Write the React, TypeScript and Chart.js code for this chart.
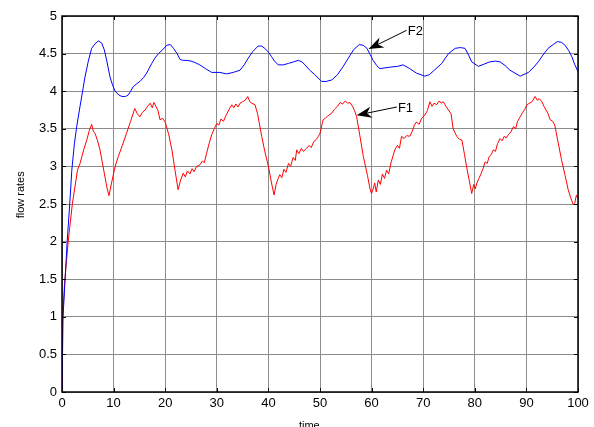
import React, { useEffect, useRef } from 'react';
import { Chart, registerables } from 'chart.js';

Chart.register(...registerables);

// F1 (red) series
const f1Time = [
  0, 0.1, 0.5, 1.2, 2.0, 3.0, 3.5, 4.2, 4.8, 5.3, 5.75, 6.1, 6.4, 6.9, 7.36, 7.9, 8.33, 8.7, 9.1, 9.6,
  10.3, 10.9, 11.7, 12.5, 13.3, 14.1, 14.6, 15.1, 15.6, 16.1, 16.6, 17.1, 17.5, 17.8, 18.2, 18.6, 19.0, 19.5, 20.0, 20.7,
  21.3, 21.9, 22.5, 23.0, 23.5, 23.9, 24.3, 24.8, 25.2, 25.6, 26.1, 26.7, 27.2, 27.6, 28.0, 28.5, 29.0, 29.5, 30.0, 30.4,
  30.8, 31.3, 31.8, 32.4, 32.9, 33.3, 33.7, 34.1, 34.5, 35.0, 35.5, 36.0, 36.4, 36.8, 37.4, 37.9, 38.3, 38.7, 39.3, 40.0,
  40.6, 41.1, 41.5, 41.9, 42.2, 42.6, 43.0, 43.4, 43.9, 44.3, 44.8, 45.2, 45.5, 45.9, 46.4, 46.8, 47.4, 47.9, 48.3, 48.8,
  49.3, 49.7, 50.0, 50.6, 51.0, 51.5, 52.3, 52.8, 53.4, 53.9, 54.4, 54.9, 55.4, 55.8, 56.3, 56.7, 57.1, 57.7, 58.4, 59.2,
  59.7, 60.0, 60.3, 60.6, 60.9, 61.3, 61.7, 62.1, 62.5, 62.9, 63.3, 63.8, 64.5, 65.0, 65.4, 65.8, 66.3, 66.8, 67.4, 67.9,
  68.3, 68.7, 69.2, 69.7, 70.3, 70.8, 71.3, 71.7, 72.1, 72.6, 73.1, 73.5, 73.9, 74.4, 74.9, 75.4, 75.8, 76.5, 77.0, 77.5,
  78.0, 78.4, 78.9, 79.4, 79.8, 80.1, 80.4, 80.8, 81.2, 81.6, 82.0, 82.4, 82.8, 83.2, 83.6, 84.0, 84.4, 84.9, 85.3, 85.7,
  86.1, 86.5, 87.0, 87.5, 87.9, 88.3, 88.8, 89.3, 89.7, 90.1, 90.6, 91.1, 91.7, 92.1, 92.5, 93.0, 93.4, 93.8, 94.2, 94.6,
  95.1, 95.5, 96.2, 96.8, 97.5, 98.1, 98.6, 99.1, 99.4, 99.7, 100
];
const f1Flow = [
  0, 0.95, 1.45, 2.0, 2.5, 2.95, 3.04, 3.22, 3.35, 3.48, 3.56, 3.46, 3.44, 3.34, 3.22, 3.02, 2.86, 2.72, 2.61, 2.78,
  3.0, 3.13, 3.28, 3.44, 3.6, 3.77, 3.70, 3.66, 3.72, 3.75, 3.80, 3.84, 3.78, 3.85, 3.80, 3.74, 3.62, 3.64, 3.59, 3.42,
  3.22, 2.95, 2.69, 2.82, 2.91, 2.86, 2.94, 2.90, 2.97, 2.93, 3.00, 3.02, 3.07, 3.05, 3.17, 3.30, 3.42, 3.50, 3.57, 3.55,
  3.63, 3.60, 3.68, 3.76, 3.82, 3.78, 3.83, 3.79, 3.84, 3.86, 3.88, 3.93, 3.86, 3.84, 3.82, 3.70, 3.55, 3.40, 3.20, 3.0,
  2.78, 2.62, 2.76, 2.84, 2.89, 2.85, 2.96, 2.92, 3.04, 3.00, 3.12, 3.08, 3.22, 3.17, 3.24, 3.20, 3.24, 3.28, 3.25, 3.33,
  3.36, 3.40, 3.44, 3.62, 3.64, 3.67, 3.71, 3.76, 3.80, 3.85, 3.83, 3.87, 3.84, 3.85, 3.80, 3.74, 3.66, 3.42, 3.13, 2.88,
  2.70, 2.64, 2.70, 2.78, 2.66, 2.82, 2.76, 2.90, 2.84, 2.95, 2.90, 3.06, 3.22, 3.28, 3.24, 3.40, 3.37, 3.41, 3.40, 3.47,
  3.55, 3.59, 3.56, 3.64, 3.68, 3.74, 3.86, 3.80, 3.84, 3.82, 3.87, 3.84, 3.86, 3.80, 3.75, 3.70, 3.50, 3.40, 3.36, 3.35,
  3.16, 3.0, 2.82, 2.64, 2.76, 2.70, 2.78, 2.84, 2.90, 2.97, 3.06, 3.04, 3.13, 3.16, 3.22, 3.20, 3.30, 3.37, 3.34, 3.40,
  3.38, 3.42, 3.46, 3.53, 3.50, 3.60, 3.66, 3.72, 3.76, 3.82, 3.84, 3.86, 3.93, 3.88, 3.90, 3.86, 3.80, 3.75, 3.70, 3.62,
  3.60, 3.55, 3.30, 3.09, 2.88, 2.69, 2.58, 2.49, 2.52, 2.62, 2.58
];

// F2 (blue) series
const f2Time = [
  0, 0.2, 0.6, 1.0, 1.5, 1.9, 2.4, 2.85, 3.5, 4.46, 5.1, 5.75, 6.4, 7.04, 7.7, 8.2, 8.66, 9.3, 9.8, 10.3,
  11, 11.6, 12.3, 12.85, 13.3, 13.8, 14.5, 15.1, 15.8, 16.4, 17.4, 18.0, 18.7, 19.5, 20.3, 21.0, 21.6, 22.3, 22.9, 23.5,
  24.2, 25.0, 25.8, 26.7, 27.8, 29.0, 30.6, 31.9, 33.2, 34.5, 35.3, 36.1, 37.0, 38.0, 38.7, 39.3, 40.0, 40.6, 41.2, 41.9,
  42.9, 43.9, 44.9, 45.8, 46.5, 47.1, 48.0, 49.0, 50.3, 51.2, 52.3, 53.4, 54.5, 55.5, 56.5, 57.6, 58.4, 59.1, 59.7, 60.3,
  61.0, 61.6, 62.6, 63.6, 65.0, 66.1, 67.4, 68.7, 70.3, 71.2, 72.0, 73.6, 74.9, 76.2, 77.2, 78.1, 78.8, 79.4, 80.7, 81.8,
  82.9, 84.0, 84.9, 85.9, 86.8, 88.8, 90.4, 91.3, 92.3, 93.2, 94.2, 95.2, 96.0, 96.8, 97.5, 98.2, 98.8, 99.4, 100
];
const f2Flow = [
  0, 1.0, 1.5, 2.0, 2.5, 2.95, 3.3, 3.53, 3.8, 4.19, 4.4, 4.57, 4.63, 4.67, 4.64, 4.55, 4.41, 4.19, 4.08, 4.0,
  3.95, 3.93, 3.93, 3.95, 4.0, 4.06, 4.1, 4.13, 4.18, 4.24, 4.37, 4.44, 4.50, 4.55, 4.61, 4.62, 4.57, 4.50, 4.42, 4.41,
  4.41, 4.40, 4.38, 4.35, 4.30, 4.25, 4.25, 4.23, 4.25, 4.28, 4.35, 4.44, 4.53, 4.60, 4.60, 4.57, 4.52, 4.46, 4.40, 4.35,
  4.35, 4.37, 4.39, 4.41, 4.39, 4.35, 4.28, 4.22, 4.13, 4.13, 4.15, 4.22, 4.33, 4.44, 4.55, 4.62, 4.61, 4.57, 4.49, 4.41,
  4.34, 4.30, 4.31, 4.32, 4.33, 4.35, 4.30, 4.24, 4.20, 4.22, 4.27, 4.37, 4.50, 4.57, 4.58, 4.57, 4.48, 4.39, 4.33, 4.36,
  4.39, 4.40, 4.39, 4.34, 4.28, 4.20, 4.25, 4.31, 4.39, 4.48, 4.57, 4.62, 4.66, 4.65, 4.61, 4.54, 4.46, 4.35, 4.26
];

// Axis ticks
const xTickValues = [0, 10, 20, 30, 40, 50, 60, 70, 80, 90, 100];
const yTickValues = [0, 0.5, 1, 1.5, 2, 2.5, 3, 3.5, 4, 4.5, 5];

// Arrow annotations (data coordinates)
const arrowLabels = ['F2', 'F1'];
const arrowTipTime = [59.4, 57.1];
const arrowTipFlow = [4.56, 3.68];
const arrowTailTime = [66.8, 64.9];
const arrowTailFlow = [4.81, 3.79];

const FONT = '"Liberation Sans", Arial, Helvetica, sans-serif';

const framePlugin = {
  id: 'matlabFrame',
  afterDatasetsDraw(chart: any) {
    const { ctx, chartArea, scales } = chart;
    const { left, right, top, bottom } = chartArea;
    ctx.save();
    ctx.strokeStyle = '#000';
    ctx.lineWidth = 1;
    // inward tick marks
    const tl = 4;
    ctx.beginPath();
    xTickValues.forEach((v) => {
      const x = Math.round(scales.x.getPixelForValue(v)) + 0.5;
      ctx.moveTo(x, bottom);
      ctx.lineTo(x, bottom - tl);
      ctx.moveTo(x, top);
      ctx.lineTo(x, top + tl);
    });
    yTickValues.forEach((v) => {
      const y = Math.round(scales.y.getPixelForValue(v)) + 0.5;
      ctx.moveTo(left, y);
      ctx.lineTo(left + tl, y);
      ctx.moveTo(right, y);
      ctx.lineTo(right - tl, y);
    });
    ctx.stroke();
    // frame
    ctx.lineWidth = 1.5;
    ctx.strokeRect(left, top, right - left, bottom - top);

    // arrows with labels
    ctx.font = '13px ' + FONT;
    ctx.fillStyle = '#000';
    ctx.textBaseline = 'middle';
    ctx.textAlign = 'left';
    arrowLabels.forEach((lab, i) => {
      const tx = scales.x.getPixelForValue(arrowTipTime[i]);
      const ty = scales.y.getPixelForValue(arrowTipFlow[i]);
      const sx = scales.x.getPixelForValue(arrowTailTime[i]);
      const sy = scales.y.getPixelForValue(arrowTailFlow[i]);
      const ang = Math.atan2(ty - sy, tx - sx);
      const len = 15;
      const half = 5.5;
      const bx = tx - len * Math.cos(ang);
      const by = ty - len * Math.sin(ang);
      const nx = tx - (len * 0.7) * Math.cos(ang);
      const ny = ty - (len * 0.7) * Math.sin(ang);
      ctx.lineWidth = 1;
      ctx.beginPath();
      ctx.moveTo(sx, sy);
      ctx.lineTo(nx, ny);
      ctx.stroke();
      ctx.beginPath();
      ctx.moveTo(tx, ty);
      ctx.lineTo(bx + half * Math.sin(ang), by - half * Math.cos(ang));
      ctx.lineTo(nx, ny);
      ctx.lineTo(bx - half * Math.sin(ang), by + half * Math.cos(ang));
      ctx.closePath();
      ctx.fill();
      ctx.fillText(lab, sx + 1, sy + 1);
    });
    ctx.restore();
  },
};

export default function App() {
  const ref = useRef<HTMLCanvasElement | null>(null);

  useEffect(() => {
    if (!ref.current) return;
    const chart = new Chart(ref.current, {
      type: 'line',
      data: {
        datasets: [
          {
            label: 'F2',
            data: f2Time.map((t, i) => ({ x: t, y: f2Flow[i] })),
            borderColor: '#0000ff',
            borderWidth: 1,
            pointRadius: 0,
            tension: 0,
            fill: false,
          },
          {
            label: 'F1',
            data: f1Time.map((t, i) => ({ x: t, y: f1Flow[i] })),
            borderColor: '#ff0000',
            borderWidth: 1,
            pointRadius: 0,
            tension: 0,
            fill: false,
          },
        ],
      },
      options: {
        animation: false,
        responsive: true,
        maintainAspectRatio: false,
        layout: { padding: { left: 0, right: 16, top: 16, bottom: 0 } },
        plugins: { legend: { display: false }, tooltip: { enabled: false } },
        scales: {
          x: {
            type: 'linear',
            min: 0,
            max: 100,
            afterBuildTicks: (s: any) => {
              s.ticks = xTickValues.map((v) => ({ value: v }));
            },
            afterFit: (s: any) => {
              s.height = 35;
            },
            ticks: {
              color: '#000',
              font: { family: FONT, size: 13 },
              padding: 4,
              maxRotation: 0,
              autoSkip: false,
              callback: (v: any) => String(v),
            },
            grid: { color: '#8c8c8c', lineWidth: 1, drawTicks: false },
            border: { display: false },
            title: {
              display: true,
              text: 'time       ',
              color: '#000',
              font: { family: FONT, size: 11 },
              padding: { top: 0, bottom: -6 },
            },
          },
          y: {
            type: 'linear',
            min: 0,
            max: 5,
            afterBuildTicks: (s: any) => {
              s.ticks = yTickValues.map((v) => ({ value: v }));
            },
            afterFit: (s: any) => {
              s.width = 62;
            },
            ticks: {
              color: '#000',
              font: { family: FONT, size: 13 },
              padding: 5,
              autoSkip: false,
              callback: (v: any) => String(v),
            },
            grid: { color: '#8c8c8c', lineWidth: 1, drawTicks: false },
            border: { display: false },
            title: {
              display: true,
              text: '      flow rates',
              color: '#000',
              font: { family: FONT, size: 11 },
              padding: { top: 14, bottom: 0 },
            },
          },
        },
      },
      plugins: [framePlugin],
    });
    return () => chart.destroy();
  }, []);

  return (
    <div style={{ position: 'fixed', left: 0, top: 0, width: 594, height: 427, background: '#fff' }}>
      <canvas ref={ref} style={{ display: 'block' }} />
    </div>
  );
}
